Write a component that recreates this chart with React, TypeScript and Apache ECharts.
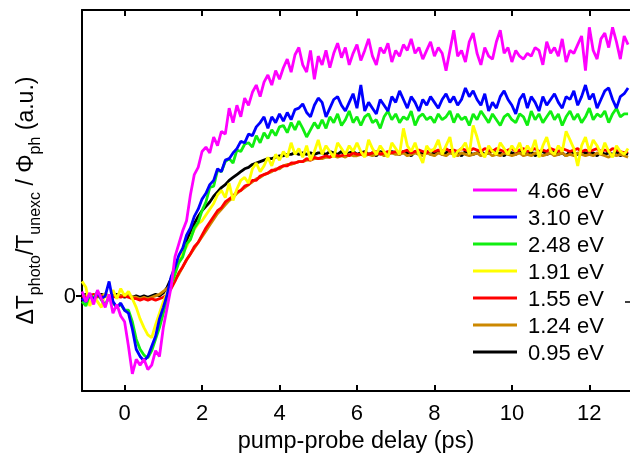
import React, { useEffect, useRef } from "react";
import * as echarts from "echarts";

// pump-probe delay (ps), sampling grid
const delays = [
  -1.1, -1.0, -0.9, -0.8, -0.7, -0.6, -0.5, -0.4, -0.3, -0.2, -0.1, 0.0,
  0.1, 0.2, 0.3, 0.4, 0.5, 0.6, 0.7, 0.8, 0.9, 1.0,
  1.1, 1.2, 1.3, 1.4, 1.5, 1.6, 1.7, 1.8, 1.9, 2.0,
  2.1, 2.2, 2.3, 2.4, 2.5, 2.6, 2.7, 2.8, 2.9, 3.0,
  3.1, 3.2, 3.3, 3.4, 3.5, 3.6, 3.7, 3.8, 3.9, 4.0,
  4.1, 4.2, 4.3, 4.4, 4.5, 4.6, 4.7, 4.8, 4.9, 5.0,
  5.1, 5.2, 5.3, 5.4, 5.5, 5.6, 5.7, 5.8, 5.9, 6.0,
  6.1, 6.2, 6.3, 6.4, 6.5, 6.6, 6.7, 6.8, 6.9, 7.0,
  7.1, 7.2, 7.3, 7.4, 7.5, 7.6, 7.7, 7.8, 7.9, 8.0,
  8.1, 8.2, 8.3, 8.4, 8.5, 8.6, 8.7, 8.8, 8.9, 9.0,
  9.1, 9.2, 9.3, 9.4, 9.5, 9.6, 9.7, 9.8, 9.9, 10.0,
  10.1, 10.2, 10.3, 10.4, 10.5, 10.6, 10.7, 10.8, 10.9, 11.0,
  11.1, 11.2, 11.3, 11.4, 11.5, 11.6, 11.7, 11.8, 11.9, 12.0,
  12.1, 12.2, 12.3, 12.4, 12.5, 12.6, 12.7, 12.8, 12.9, 13.0,
];

// signal (a.u., hundredths of the 0.95 eV plateau)
const s466 = [
  3, -4, 2, -6, 4, -2, -8, 1, -12, -6, -14, -18,
  -35, -54, -44, -48, -44, -51, -48, -38, -42, -22,
  -8, 6, 27, 36, 45, 52, 70, 84, 89, 100,
  103, 99, 110, 104, 114, 112, 130, 120, 132, 124,
  137, 132, 141, 146, 138, 148, 153, 146, 156, 150,
  158, 164, 155, 167, 172, 160, 155, 170, 150, 166,
  160, 170, 158, 168, 175, 165, 172, 160, 168, 174,
  163, 170, 178, 166, 160, 172, 168, 175, 162, 170,
  166, 174, 170, 178, 168, 172, 164, 170, 176, 166,
  172, 168, 156, 170, 184, 166, 170, 162, 176, 182,
  168, 160, 172, 166, 164, 176, 184, 168, 172, 162,
  170, 166, 164, 168, 166, 172, 170, 160, 176, 168,
  172, 166, 178, 162, 170, 168, 174, 180, 156, 186,
  170, 164, 178, 182, 172, 186, 176, 164, 180, 174,
];
const s310 = [
  -2, -4, 1, -3, 2, -2, 0, 10, -4, -8, -5, -10,
  -12, -23, -37, -42, -45, -42, -35, -28, -16, -8,
  1, 13, 20, 28, 33, 42, 47, 55, 60, 67,
  71, 77, 80, 88, 86, 94, 95, 99, 102, 107,
  106, 112, 111, 117, 120, 124, 116, 124, 120, 126,
  121, 127, 122, 129, 130, 133, 127, 124, 132, 137,
  134, 124, 130, 136, 138, 132, 128, 134, 140, 130,
  146, 128, 134, 130, 126, 136, 132, 128, 138, 134,
  142, 136, 130, 138, 134, 128, 136, 132, 138, 134,
  130, 136, 140, 134, 138, 132, 136, 144, 138, 142,
  136, 132, 140, 128, 134, 130, 138, 142, 136, 132,
  126, 136, 140, 130, 138, 134, 128, 138, 132, 136,
  140, 134, 130, 138, 136, 142, 132, 138, 146, 136,
  140, 130, 136, 142, 144, 136, 130, 138, 140, 144,
];
const s248 = [
  -4, -7, 1, -2, 3, -3, -6, -1, -5, -8, -6, -10,
  -10, -18, -30, -37, -41, -43, -38, -30, -22, -12,
  -2, 8, 15, 23, 27, 36, 39, 47, 51, 59,
  65, 75, 76, 87, 86, 93, 95, 92, 101, 100,
  105, 106, 103, 111, 106, 113, 109, 115, 111, 117,
  118, 113, 120, 115, 121, 116, 110, 115, 120, 116,
  122, 116, 124, 120, 126, 118, 122, 128, 120, 124,
  118, 124, 126, 120, 122, 116, 124, 128, 122, 126,
  120, 124, 122, 128, 118, 124, 126, 122, 124, 120,
  126, 122, 124, 128, 120, 126, 122, 124, 118, 126,
  122, 128, 124, 120, 126, 122, 118, 124, 126, 122,
  120, 126, 124, 118, 128, 122, 126, 120, 124, 128,
  122, 126, 118, 124, 128, 122, 126, 120, 124, 130,
  122, 126, 124, 128, 120, 126, 130, 124, 126, 126,
];
const s191 = [
  10, 6, -7, 0, -4, -8, 2, -3, 4, -2, 5, 0,
  3, -2, -8, -16, -22, -27, -29, -20, -12, -4,
  2, 8, 16, 26, 30, 34, 40, 46, 50, 52,
  56, 60, 64, 70, 73, 68, 78, 66, 74, 80,
  82, 78, 88, 92, 86, 90, 96, 90, 98, 94,
  100, 96, 106, 98, 102, 96, 104, 94, 100, 108,
  98, 104, 100, 96, 106, 102, 98, 104, 100, 106,
  100, 96, 108, 102, 98, 104, 100, 96, 106, 102,
  98, 116, 104, 100, 106, 98, 92, 104, 100, 102,
  108, 98, 104, 110, 96, 100, 102, 106, 98, 118,
  110, 100, 96, 104, 100, 98, 106, 102, 98, 104,
  100, 106, 98, 104, 100, 108, 96, 104, 110, 100,
  98, 104, 100, 114, 108, 102, 90, 104, 110, 100,
  108, 104, 98, 106, 100, 96, 104, 100, 98, 102,
];
const s155 = [
  0, -1, 0, 1, 0, -1, 0, 0, -1, 0, -1, 0,
  -1, -2, -2, -3, -2, -3, -2, -3, -2, -1,
  1, 5, 10, 16, 20, 25, 29, 34, 37, 42,
  47, 51, 55, 59, 61, 65, 67, 69, 72, 73,
  76, 77, 80, 80, 83, 84, 85, 87, 87, 89,
  90, 90, 92, 92, 93, 93, 95, 94, 96, 95,
  96, 97, 96, 98, 97, 97, 98, 97, 99, 98,
  98, 99, 98, 99, 100, 98, 99, 100, 99, 100,
  99, 100, 101, 99, 100, 101, 100, 99, 101, 100,
  101, 100, 102, 100, 101, 100, 102, 101, 100, 102,
  101, 100, 102, 101, 100, 102, 101, 100, 101, 102,
  100, 101, 102, 100, 101, 102, 100, 101, 100, 102,
  101, 100, 102, 101, 100, 101, 102, 100, 101, 100,
  101, 102, 100, 101, 100, 102, 101, 100, 99, 100,
];
const s124 = [
  0, 0, 1, 0, -1, 0, 1, 0, 0, -1, 0, 1,
  0, -1, -1, -2, -1, -2, -1, 0, 1, 3,
  5, 8, 11, 15, 20, 25, 29, 33, 37, 41,
  45, 49, 53, 57, 60, 63, 66, 68, 71, 73,
  75, 77, 79, 81, 82, 84, 85, 86, 88, 88,
  90, 91, 91, 92, 93, 93, 94, 94, 95, 95,
  95, 96, 96, 97, 96, 97, 96, 98, 97, 97,
  98, 97, 98, 97, 98, 99, 97, 98, 99, 98,
  98, 99, 97, 98, 99, 98, 97, 99, 98, 97,
  99, 98, 97, 99, 98, 97, 99, 98, 97, 98,
  99, 97, 98, 99, 97, 98, 97, 99, 98, 97,
  98, 99, 97, 98, 97, 99, 98, 97, 98, 99,
  97, 98, 99, 97, 98, 97, 99, 98, 97, 98,
  97, 99, 98, 97, 96, 98, 97, 98, 97, 96,
];
const s095 = [
  0, 1, 0, -1, 0, 1, 0, -1, 0, 1, 0, -1,
  0, -1, 0, -1, 0, -1, 0, 1, 0, 2,
  6, 12, 18, 26, 32, 38, 44, 50, 55, 59,
  62, 65, 69, 72, 75, 77, 80, 82, 84, 86,
  88, 89, 91, 92, 93, 94, 95, 95, 96, 97,
  97, 98, 98, 99, 98, 99, 98, 99, 98, 99,
  99, 98, 100, 99, 98, 100, 97, 99, 100, 98,
  99, 100, 98, 99, 97, 100, 99, 98, 100, 99,
  98, 100, 99, 97, 100, 98, 99, 100, 98, 99,
  100, 98, 99, 101, 98, 99, 97, 100, 99, 98,
  99, 100, 98, 99, 101, 98, 99, 97, 100, 99,
  98, 100, 99, 98, 100, 97, 99, 100, 98, 99,
  100, 98, 99, 97, 100, 99, 98, 100, 99, 98,
  99, 97, 100, 98, 99, 98, 100, 97, 99, 98,
];

const legendNames = ["4.66 eV", "3.10 eV", "2.48 eV", "1.91 eV", "1.55 eV", "1.24 eV", "0.95 eV"];
const seriesValues = [s466, s310, s248, s191, s155, s124, s095];
const seriesColors = ["#ff00ff", "#0000ff", "#11ee11", "#ffff00", "#ff0000", "#cc8800", "#000000"];
const xTicks = [0, 2, 4, 6, 8, 10, 12];
const yTicks = [0];

const FONT = "'Liberation Sans', Arial, Helvetica, sans-serif";

export default function App() {
  const ref = useRef<HTMLDivElement>(null);
  useEffect(() => {
    if (!ref.current) return;
    const chart = echarts.init(ref.current, null, { renderer: "svg" });
    // draw in reverse legend order so 4.66 eV ends on top
    const order = [6, 5, 4, 3, 2, 1, 0];
    const series = order.map((i) => ({
      name: legendNames[i],
      type: "line",
      showSymbol: false,
      symbol: "none",
      data: delays.map((t, k) => [t, seriesValues[i][k]]),
      lineStyle: { width: 2.8, color: seriesColors[i] },
      itemStyle: { color: seriesColors[i] },
      clip: true,
    }));
    const axisLineStyle = { color: "#000", width: 2 };
    chart.setOption({
      animation: false,
      textStyle: { fontFamily: FONT },
      grid: { left: 82, right: 0, top: 10, bottom: 65, show: false },
      legend: {
        data: legendNames,
        orient: "vertical",
        left: 473,
        top: 179,
        padding: 0,
        icon: "rect",
        itemWidth: 44,
        itemHeight: 3,
        itemGap: 5,
        selectedMode: false,
        textStyle: { fontSize: 22, lineHeight: 22, color: "#000", fontFamily: FONT, padding: [0, 0, 0, 6] },
      },
      xAxis: [
        {
          type: "value",
          min: -1.1,
          max: 13.05,
          position: "bottom",
          axisLine: { show: true, onZero: false, lineStyle: axisLineStyle },
          axisTick: { show: true, inside: true, length: 6, lineStyle: axisLineStyle, customValues: xTicks },
          axisLabel: { customValues: xTicks, fontSize: 22, color: "#000", margin: 10, fontFamily: FONT },
          splitLine: { show: false },
          name: "pump-probe delay (ps)",
          nameLocation: "middle",
          nameGap: 33,
          nameTextStyle: { fontSize: 23.5, color: "#000", fontFamily: FONT },
        },
        {
          type: "value",
          min: -1.1,
          max: 13.05,
          position: "top",
          axisLine: { show: true, onZero: false, lineStyle: axisLineStyle },
          axisTick: { show: true, inside: true, length: 6, lineStyle: axisLineStyle, customValues: xTicks },
          axisLabel: { show: false },
          splitLine: { show: false },
        },
      ],
      yAxis: {
        type: "value",
        min: -66,
        max: 198,
        axisLine: { show: true, onZero: false, lineStyle: axisLineStyle },
        axisTick: { show: true, inside: false, length: 6, lineStyle: axisLineStyle, customValues: yTicks },
        axisLabel: { customValues: yTicks, fontSize: 22, color: "#000", margin: 6, fontFamily: FONT },
        splitLine: { show: false },
        name: "{m|ΔT}{s|photo}{m|/T}{s|unexc}{m| / Φ}{s|ph}{m| (a.u.)}",
        nameLocation: "middle",
        nameRotate: 90,
        nameGap: 42,
        nameTextStyle: {
          color: "#000",
          fontFamily: FONT,
          rich: {
            m: { fontSize: 23, lineHeight: 27, verticalAlign: "top", color: "#000", fontFamily: FONT },
            s: { fontSize: 16, lineHeight: 16, padding: [13, 0, 0, 0], verticalAlign: "top", color: "#000", fontFamily: FONT },
          },
        },
      },
      graphic: [
        { type: "line", shape: { x1: 625, y1: 302, x2: 630, y2: 302 }, style: { stroke: "#000", lineWidth: 1.5 } },
      ],
      series,
    });
    return () => chart.dispose();
  }, []);
  return <div ref={ref} style={{ position: "fixed", left: 0, top: 0, width: 630, height: 457 }} />;
}
